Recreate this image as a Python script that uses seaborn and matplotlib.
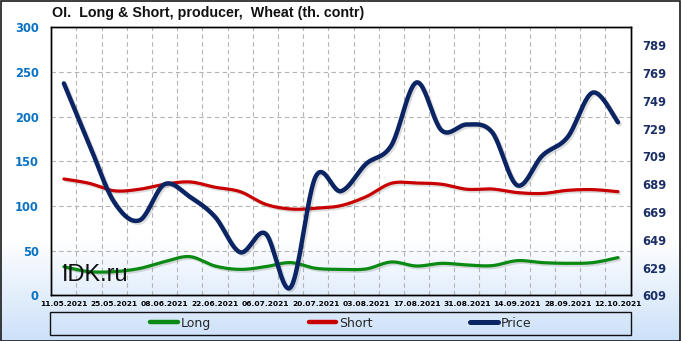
import numpy as np
import pandas as pd
import matplotlib
matplotlib.use("Agg")
import matplotlib.pyplot as plt
import matplotlib.patheffects as pe
from matplotlib.patches import Rectangle
from matplotlib.lines import Line2D
import seaborn as sns

# ---- data ----
dates = ["11.05.2021", "18.05.2021", "25.05.2021", "01.06.2021", "08.06.2021", "15.06.2021",
         "22.06.2021", "29.06.2021", "06.07.2021", "13.07.2021", "20.07.2021", "27.07.2021",
         "03.08.2021", "10.08.2021", "17.08.2021", "24.08.2021", "31.08.2021", "07.09.2021",
         "14.09.2021", "21.09.2021", "28.09.2021", "05.10.2021", "12.10.2021"]
long_vals = [32, 26.5, 26.5, 30, 37.7, 43.3, 32.8, 29, 32, 36.6, 30.2, 29.1, 29.5, 37.3,
             32.8, 35.8, 34, 33.2, 38.8, 36.6, 35.8, 36.6, 42.2]
short_vals = [130.2, 125.4, 117, 118.7, 124.3, 126.9, 121, 116, 102, 96.6, 97.4, 100.4, 110.4,
              125.4, 125.7, 124.3, 118.7, 119, 115, 114, 117.5, 118.3, 116]
price_vals = [761.6, 718, 676, 663, 689, 680, 665.5, 640, 653.5, 614.7, 694.6, 684, 703.7,
              716.9, 762.3, 727.7, 732, 726.5, 688.2, 709.7, 722.9, 755, 733.6]
tick_labels = dates[::2]

LEFT_TICKS = [0, 50, 100, 150, 200, 250, 300]
RIGHT_TICKS = list(range(609, 790, 20))


def smooth(xv, yv, n=24):
    """Excel-like smoothed line (Catmull-Rom / Bezier through the points)."""
    xv = np.asarray(xv, float)
    yv = np.asarray(yv, float)
    P = np.column_stack([xv, yv])
    out = []
    t = np.linspace(0, 1, n, endpoint=False)
    for i in range(len(P) - 1):
        p0 = P[i - 1] if i > 0 else P[i]
        p1, p2 = P[i], P[i + 1]
        p3 = P[i + 2] if i + 2 < len(P) else P[i + 1]
        c1 = p1 + (p2 - p0) / 6.0
        c2 = p2 - (p3 - p1) / 6.0
        tt = t[:, None]
        seg = ((1 - tt) ** 3) * p1 + 3 * ((1 - tt) ** 2) * tt * c1 + 3 * (1 - tt) * tt ** 2 * c2 + tt ** 3 * p2
        out.append(seg)
    out.append(P[-1][None, :])
    out = np.vstack(out)
    return out[:, 0], out[:, 1]


sns.set_theme(style="white")
plt.rcParams["font.family"] = ["DejaVu Sans"]

W, H = 681, 341
fig = plt.figure(figsize=(W / 100, H / 100), dpi=100)

# background gradient (white -> light blue at bottom)
bg = fig.add_axes([0, 0, 1, 1], zorder=-10)
yy = np.linspace(0, 1, 400)  # 0 bottom, 1 top
frac = np.clip((0.30 - yy) / 0.30, 0, 1)
top_c = np.array([1.0, 1.0, 1.0])
bot_c = np.array([0xcc, 0xe1, 0xf9]) / 255.0
cols = top_c[None, :] * (1 - frac[:, None]) + bot_c[None, :] * frac[:, None]
img = np.repeat(cols[:, None, :], 2, axis=1)
bg.imshow(img, origin="lower", aspect="auto", extent=[0, 1, 0, 1])
bg.set_xlim(0, 1)
bg.set_ylim(0, 1)
bg.axis("off")
bg.add_patch(Rectangle((0.5 / W, 0.5 / H), 1 - 1.5 / W, 1 - 1.5 / H, fill=False,
                       edgecolor="#1a1a1a", lw=1.2, transform=bg.transAxes))

ax_l, ax_r = 51.3 / W, 630.6 / W
ax_t, ax_b = 1 - 27.3 / H, 1 - 295.3 / H
ax = fig.add_axes([ax_l, ax_b, ax_r - ax_l, ax_t - ax_b])
ax.set_facecolor("none")
ax2 = ax.twinx()
ax2.set_facecolor("none")

x = np.arange(len(dates))
shadow = [pe.SimpleLineShadow(offset=(1.3, -1.3), shadow_color="#666666", alpha=0.22), pe.Normal()]

lx, ly = smooth(x, long_vals)
sx, sy = smooth(x, short_vals)
px, py = smooth(x, price_vals)

sns.lineplot(x=lx, y=ly, ax=ax, color="#0a8a12", lw=2.3, sort=False, path_effects=shadow)
sns.lineplot(x=sx, y=sy, ax=ax, color="#c80000", lw=2.3, sort=False, path_effects=shadow)
sns.lineplot(x=px, y=py, ax=ax2, color="#0b2463", lw=3.2, sort=False, path_effects=shadow)

ax.set_xlim(-0.5, len(dates) - 0.5)
ax.set_ylim(0, 300)
ax2.set_ylim(609, 802)

ax.set_xticks(x[::2])
ax.set_xticklabels(tick_labels, fontsize=5.4, fontweight="bold", color="black")
ax.set_xticks(np.arange(0.5, len(dates) - 0.5, 1.0), minor=True)
ax.set_yticks(LEFT_TICKS)
ax.set_yticklabels([str(v) for v in LEFT_TICKS], fontsize=8.3, fontweight="bold", color="#0a72c4")
ax2.set_yticks(RIGHT_TICKS)
ax2.set_yticklabels([str(v) for v in RIGHT_TICKS], fontsize=8.3, fontweight="bold", color="#1b2f66")

ax.tick_params(axis="x", which="both", length=0, pad=4)
ax.tick_params(axis="y", length=0, pad=9)
ax2.tick_params(axis="y", length=0, pad=8.5)

ax.grid(False)
ax2.grid(False)
ax.yaxis.grid(True, color="#b4b4b4", linestyle=(0, (4, 3)), lw=0.8)
ax.xaxis.grid(True, which="minor", color="#b4b4b4", linestyle=(0, (4, 3)), lw=0.8)
ax.set_axisbelow(True)

for a in (ax, ax2):
    for s in a.spines.values():
        s.set_visible(True)
        s.set_color("black")
        s.set_linewidth(1.0)
ax.set_xlabel("")
ax.set_ylabel("")
ax2.set_ylabel("")

# watermark
ax2.text(0.018, 0.075, "IDK.ru", transform=ax.transAxes, fontsize=17,
         family="Liberation Sans", color="#111111", ha="left", va="center", zorder=10)

# title
fig.text(52.5 / W, 1 - 13.5 / H, "OI.  Long & Short, producer,  Wheat (th. contr)",
         fontsize=10.3, fontweight="bold", family="Liberation Sans", color="#111111",
         ha="left", va="center")

# legend frame and entries
lb_l, lb_r, lb_t, lb_b = 49.5 / W, 630.6 / W, 1 - 311.7 / H, 1 - 335 / H
bg.add_patch(Rectangle((lb_l, lb_b), lb_r - lb_l, lb_t - lb_b, fill=False,
                       edgecolor="#111111", lw=1.0, transform=bg.transAxes))
handles = [Line2D([], [], color="#0a8a12", lw=3.2),
           Line2D([], [], color="#c80000", lw=3.2),
           Line2D([], [], color="#0b2463", lw=3.6)]
fig.legend(handles, ["Long", "Short", "Price"], loc="center",
           bbox_to_anchor=(341 / W, 1 - 323.3 / H), ncol=3, frameon=False,
           fontsize=9, handlelength=2.2, handletextpad=0.25, columnspacing=7.8,
           borderaxespad=0, borderpad=0)

fig.savefig("out.png", dpi=100)
